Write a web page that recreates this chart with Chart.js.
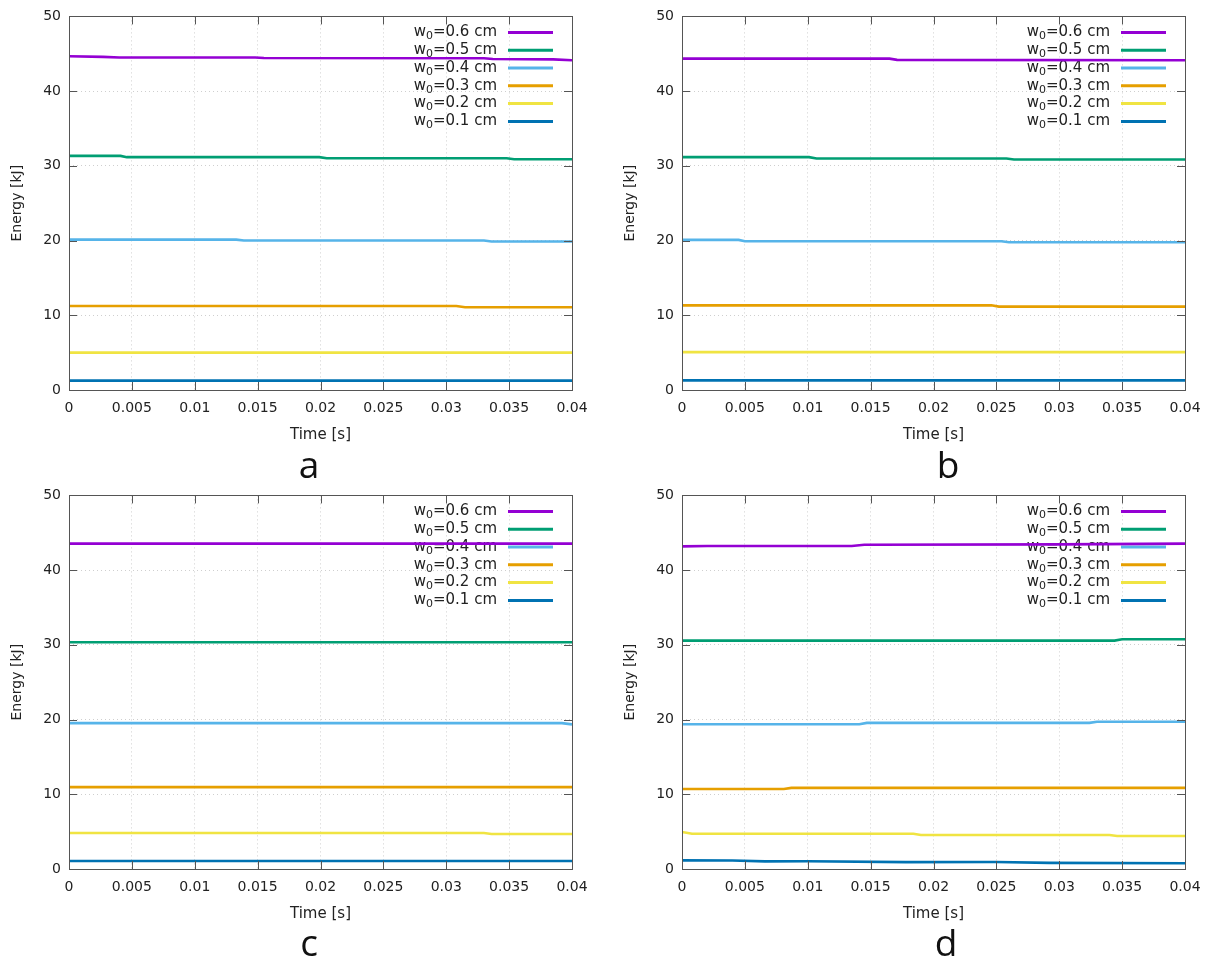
<!DOCTYPE html>
<html>
<head>
<meta charset="utf-8">
<script src="https://cdn.jsdelivr.net/npm/chart.js@4/dist/chart.umd.min.js"></script>
<style>
    body { margin: 0; background: #fff; width: 1215px; height: 965px; position: relative; overflow: hidden; }
    .panel { position: absolute; width: 600px; height: 450px; }
    .letter { position: absolute; font-family: "Open Sans", sans-serif; font-size: 37px; color: #111; transform: translateX(-50%); line-height: 1; }
</style>
</head>
<body>
<div class="panel" style="left: 0; top: 0"><canvas id="chartA"></canvas></div>
<div class="panel" style="left: 613px; top: 0"><canvas id="chartB"></canvas></div>
<div class="panel" style="left: 0; top: 479px"><canvas id="chartC"></canvas></div>
<div class="panel" style="left: 613px; top: 479px"><canvas id="chartD"></canvas></div>
<div class="letter" style="left: 309px; top: 445px">a</div>
<div class="letter" style="left: 948px; top: 445px">b</div>
<div class="letter" style="left: 309px; top: 923px">c</div>
<div class="letter" style="left: 946px; top: 923px">d</div>

<script>
// beam widths, legend order
const widths = ["0.6", "0.5", "0.4", "0.3", "0.2", "0.1"]
const colors = ["#9400d3", "#009e73", "#56b4e9", "#e69f00", "#f0e442", "#0072b2"]
const timeTicks = [0, 0.005, 0.01, 0.015, 0.02, 0.025, 0.03, 0.035, 0.04]
const energyTicks = [0, 10, 20, 30, 40, 50]

// panel a  [time s, energy kJ]
const a06 = [[0, 44.67], [0.0027, 44.58], [0.004, 44.5], [0.0148, 44.5], [0.0155, 44.44], [0.033, 44.4], [0.0337, 44.3], [0.0385, 44.25], [0.04, 44.13]]
const a05 = [[0, 31.33], [0.0041, 31.33], [0.0046, 31.16], [0.0199, 31.16], [0.0205, 31.02], [0.0348, 31.02], [0.0354, 30.89], [0.04, 30.89]]
const a04 = [[0, 20.13], [0.0133, 20.13], [0.0139, 20.0], [0.033, 20.0], [0.0336, 19.87], [0.04, 19.87]]
const a03 = [[0, 11.24], [0.0308, 11.24], [0.0315, 11.07], [0.04, 11.07]]
const a02 = [[0, 5.0], [0.04, 5.0]]
const a01 = [[0, 1.25], [0.04, 1.25]]

// panel b
const b06 = [[0, 44.35], [0.0165, 44.35], [0.0171, 44.18], [0.04, 44.13]]
const b05 = [[0, 31.16], [0.0101, 31.16], [0.0107, 30.98], [0.0258, 30.98], [0.0264, 30.84], [0.04, 30.84]]
const b04 = [[0, 20.09], [0.0045, 20.09], [0.005, 19.91], [0.0254, 19.91], [0.026, 19.78], [0.04, 19.78]]
const b03 = [[0, 11.33], [0.0246, 11.33], [0.0252, 11.16], [0.04, 11.16]]
const b02 = [[0, 5.07], [0.04, 5.07]]
const b01 = [[0, 1.29], [0.04, 1.29]]

// panel c
const c06 = [[0, 43.54], [0.04, 43.54]]
const c05 = [[0, 30.35], [0.04, 30.35]]
const c04 = [[0, 19.52], [0.0392, 19.52], [0.04, 19.36]]
const c03 = [[0, 10.96], [0.04, 10.96]]
const c02 = [[0, 4.81], [0.033, 4.81], [0.0336, 4.68], [0.04, 4.68]]
const c01 = [[0, 1.07], [0.04, 1.07]]

// panel d
const d06 = [[0, 43.18], [0.002, 43.22], [0.0135, 43.22], [0.0145, 43.4], [0.03, 43.45], [0.04, 43.54]]
const d05 = [[0, 30.57], [0.0344, 30.57], [0.035, 30.75], [0.04, 30.75]]
const d04 = [[0, 19.38], [0.0141, 19.38], [0.0147, 19.56], [0.0324, 19.56], [0.033, 19.7], [0.04, 19.7]]
const d03 = [[0, 10.7], [0.0081, 10.7], [0.0087, 10.86], [0.04, 10.86]]
const d02 = [[0, 4.95], [0.0008, 4.72], [0.0184, 4.72], [0.019, 4.55], [0.034, 4.55], [0.0346, 4.42], [0.04, 4.42]]
const d01 = [[0, 1.16], [0.004, 1.14], [0.0066, 1.02], [0.01, 1.04], [0.0178, 0.92], [0.025, 0.94], [0.0292, 0.82], [0.04, 0.76]]

const FONT = "DejaVu Sans"
const TEXT = "#222"
const FRAME = "#555"

// gnuplot-like key: text right aligned, sample line on the right
let keyPlugin = {
    id: "gnuKey",
    beforeDatasetsDraw: (chart) => {
        let ctx = chart.ctx
        let area = chart.chartArea
        ctx.save()
        ctx.textBaseline = "middle"
        chart.data.datasets.forEach((ds, i) => {
            let y = area.top + 16 + i * 17.8
            let textRight = area.right - 75
            let rest = "=" + widths[i] + " cm"
            ctx.font = `15px "${FONT}"`
            let restW = ctx.measureText(rest).width
            let wW = ctx.measureText("w").width
            ctx.font = `11px "${FONT}"`
            let subW = ctx.measureText("0").width
            let x = textRight - restW - subW - wW
            ctx.fillStyle = TEXT
            ctx.textAlign = "left"
            ctx.font = `15px "${FONT}"`
            ctx.fillText("w", x, y)
            ctx.font = `11px "${FONT}"`
            ctx.fillText("0", x + wW, y + 4)
            ctx.font = `15px "${FONT}"`
            ctx.fillText(rest, x + wW + subW, y)

            ctx.strokeStyle = ds.borderColor
            ctx.lineWidth = 3
            ctx.beginPath()
            ctx.moveTo(area.right - 64, y)
            ctx.lineTo(area.right - 19, y)
            ctx.stroke()
        })
        ctx.restore()
    }
}

// frame + inward ticks on all four sides
let framePlugin = {
    id: "gnuFrame",
    afterDraw: (chart) => {
        let ctx = chart.ctx
        let a = chart.chartArea
        let xs = chart.scales.x
        let ys = chart.scales.y
        let len = 8
        ctx.save()
        ctx.strokeStyle = FRAME
        ctx.lineWidth = 1
        ctx.beginPath()
        for (let t of timeTicks) {
            let px = Math.round(xs.getPixelForValue(t)) + 0.5
            ctx.moveTo(px, a.bottom); ctx.lineTo(px, a.bottom - len)
            ctx.moveTo(px, a.top); ctx.lineTo(px, a.top + len)
        }
        for (let v of energyTicks) {
            let py = Math.round(ys.getPixelForValue(v)) + 0.5
            ctx.moveTo(a.left, py); ctx.lineTo(a.left + len, py)
            ctx.moveTo(a.right, py); ctx.lineTo(a.right - len, py)
        }
        ctx.stroke()
        ctx.strokeRect(Math.round(a.left) + 0.5, Math.round(a.top) + 0.5, Math.round(a.right - a.left), Math.round(a.bottom - a.top))
        ctx.restore()
    }
}

let makeChart = (id, series) => {
    return new Chart(document.getElementById(id), {
        type: "line",
        data: {
            datasets: series.map((pts, i) => ({
                label: "w0=" + widths[i] + " cm",
                data: pts.map(p => ({ x: p[0], y: p[1] })),
                borderColor: colors[i],
                backgroundColor: colors[i],
                borderWidth: 2.6,
                pointRadius: 0,
                tension: 0,
                fill: false
            }))
        },
        options: {
            responsive: false,
            animation: false,
            events: [],
            layout: { padding: { left: 0, right: 28, top: 15, bottom: 0 } },
            plugins: {
                legend: { display: false },
                tooltip: { enabled: false }
            },
            scales: {
                x: {
                    type: "linear",
                    min: 0,
                    max: 0.04,
                    afterBuildTicks: (scale) => { scale.ticks = timeTicks.map(v => ({ value: v })) },
                    afterFit: (scale) => { scale.height = 60 },
                    grid: { color: "#cfcfcf", drawTicks: false },
                    border: { display: false, dash: [1, 3] },
                    ticks: {
                        autoSkip: false,
                        maxRotation: 0,
                        padding: 10,
                        color: TEXT,
                        font: { family: FONT, size: 14 },
                        callback: (v) => String(parseFloat(Number(v).toFixed(4)))
                    },
                    title: {
                        display: true,
                        text: "Time [s]",
                        color: TEXT,
                        font: { family: FONT, size: 15 },
                        padding: { top: 0, bottom: 6 }
                    }
                },
                y: {
                    min: 0,
                    max: 50,
                    afterBuildTicks: (scale) => { scale.ticks = energyTicks.map(v => ({ value: v })) },
                    afterFit: (scale) => { scale.width = 69 },
                    grid: { color: "#cfcfcf", drawTicks: false },
                    border: { display: false, dash: [1, 3] },
                    ticks: {
                        padding: 8,
                        color: TEXT,
                        font: { family: FONT, size: 14 }
                    },
                    title: {
                        display: true,
                        text: "Energy [kJ]",
                        color: TEXT,
                        font: { family: FONT, size: 14 },
                        padding: { top: 9, bottom: 0 }
                    }
                }
            }
        },
        plugins: [keyPlugin, framePlugin]
    })
}

window.addEventListener("load", () => {
    for (let c of document.getElementsByTagName("canvas")) {
        c.width = 600
        c.height = 450
    }
    makeChart("chartA", [a06, a05, a04, a03, a02, a01])
    makeChart("chartB", [b06, b05, b04, b03, b02, b01])
    makeChart("chartC", [c06, c05, c04, c03, c02, c01])
    makeChart("chartD", [d06, d05, d04, d03, d02, d01])
})
</script>
</body>
</html>
